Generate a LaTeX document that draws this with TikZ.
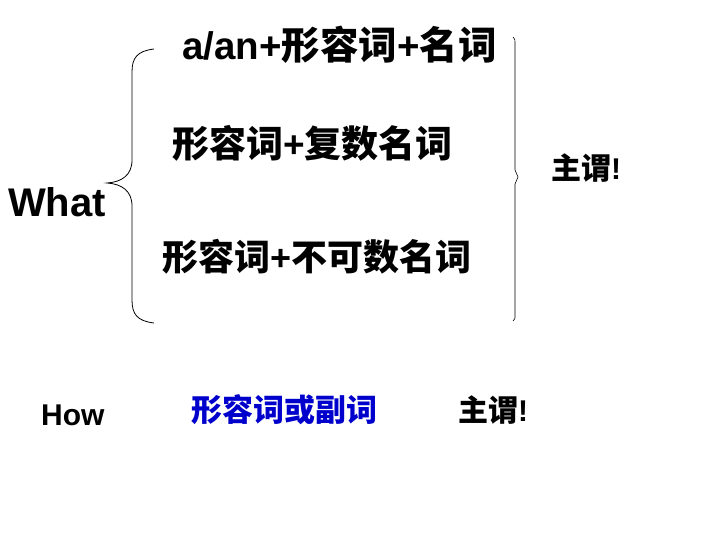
\documentclass[tikz,border=0pt]{standalone}
\usepackage{fontspec}
\setmainfont{Liberation Sans}
\newfontfamily\cjk{Noto Sans CJK SC}
\newcommand{\zh}[1]{{\cjk #1}}
\definecolor{howblue}{RGB}{0,0,204}

\begin{document}
\begin{tikzpicture}[x=1pt, y=-1pt,
    txt/.style={anchor=west, inner sep=0pt, font=\bfseries},
    big/.style={txt, font=\fontsize{36}{40}\selectfont\bfseries},
    mid/.style={txt, font=\fontsize{30}{34}\selectfont\bfseries},
    brc/.style={black, line width=0.8pt}
]
    \useasboundingbox (0,0) rectangle (720,540);

    % === What: three patterns ===
    \node[big] (what) at (8,202) {\fontsize{40}{44}\selectfont What};
    \node[big] (alan) at (182,45) {\fontsize{38.5}{42}\selectfont a/an+\zh{形容词}+\zh{名词}};
    \node[big] (plural) at (172,143) {\fontsize{37}{41}\selectfont\zh{形容词}+\zh{复数名词}};
    \node[big] (uncount) at (162,257) {\zh{形容词}+\zh{不可数名词}};
    \node[mid] (svtop) at (551,168) {\zh{主谓}!};

    % left brace
    \draw[brc] (154,49) .. controls (137,51) and (132,58) .. (132,72)
        -- (132,160) .. controls (132,175) and (122,182) .. (107,183)
        .. controls (122,184) and (132,191) .. (132,206)
        -- (132,300) .. controls (132,314) and (137,321) .. (154,323);

    % right brace (thin)
    \draw[black, line width=0.6pt] (513,37) .. controls (515,39) .. (515,45)
        -- (515,170) -- (518,177) -- (515,184)
        -- (515,315) .. controls (515,319) .. (513,321);

    % === How ===
    \node[mid] (how) at (41,415) {How};
    \node[mid, text=howblue, font=\fontsize{31}{35}\selectfont\bfseries] (adv) at (191,410) {\zh{形容词或副词}};
    \node[mid] (svbot) at (458,410) {\zh{主谓}!};
\end{tikzpicture}
\end{document}
